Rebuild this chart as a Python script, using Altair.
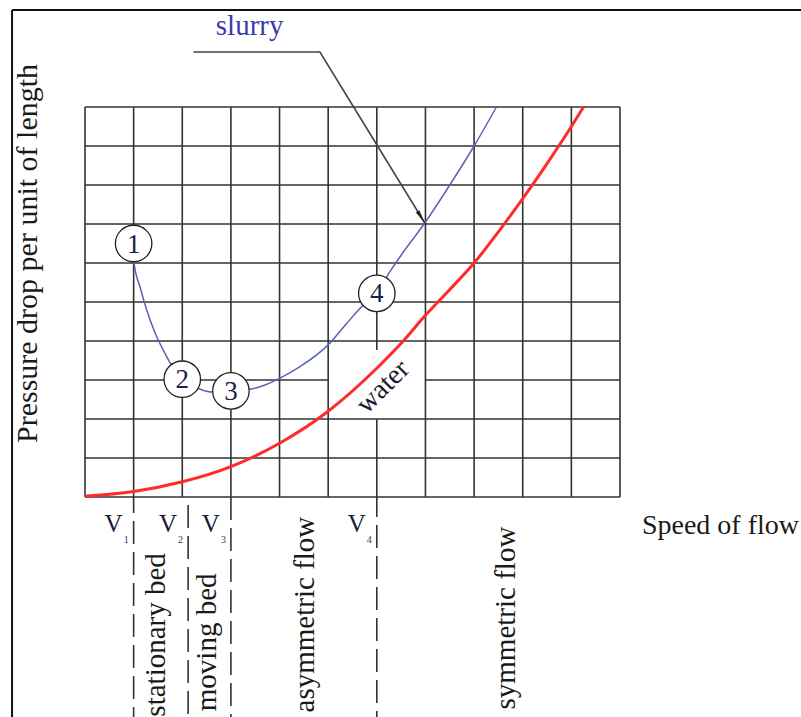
import altair as alt
import pandas as pd

# ---- curves (speed of flow in grid units, pressure drop in grid units) ----
water_speed = [0, 1, 2, 3, 4, 5, 6, 6.5, 7, 7.5, 8, 8.5, 9.0, 9.5, 10.0, 10.25]
water_dp = [0.02, 0.14, 0.39, 0.78, 1.38, 2.2, 3.3, 3.94, 4.66, 5.32, 6.0, 6.8, 7.65, 8.55, 9.5, 10.0]

slurry_speed = [1.0, 1.01, 1.13, 1.27, 1.44, 1.64, 1.75, 2.0, 2.32, 2.63, 3.0, 3.39, 3.7,
                4.0, 4.42, 5.0, 5.38, 5.76, 6.0, 6.27, 6.5, 7.0, 7.5, 8.0, 8.46]
slurry_dp = [6.5, 5.99, 5.39, 4.79, 4.21, 3.69, 3.44, 3.02, 2.79, 2.69, 2.72, 2.76, 2.87,
             3.04, 3.34, 3.9, 4.45, 4.97, 5.22, 5.78, 6.2, 7.05, 8.0, 9.0, 10.0]

# numbered states on the slurry curve
state_labels = ["1", "2", "3", "4"]
state_speed = [1.0, 2.0, 3.0, 6.0]
state_dp = [6.5, 3.02, 2.72, 5.22]

# critical speeds separating the flow regimes
crit_names = ["V", "V", "V", "V"]
crit_subs = ["1", "2", "3", "4"]
crit_speed = [1.0, 2.12, 3.0, 6.0]
crit_dash_offset = [7, 23, 0, 3]

# flow regimes written under the chart
regime_names = ["stationary bed", "moving bed", "asymmetric flow", "symmetric flow"]
regime_x = [1.645, 2.693, 4.708, 8.841]
regime_top = [-1.44, -1.96, -0.505, -0.76]

# grid
grid_x = list(range(0, 12))
grid_y = list(range(0, 11))

# ---------------------------------------------------------------------------
xs = alt.Scale(domain=[0, 11], nice=False, zero=False)
ys = alt.Scale(domain=[0, 10], nice=False, zero=False)


def X(f="x"):
    return alt.X(f"{f}:Q", scale=xs, axis=None)


def Y(f="y"):
    return alt.Y(f"{f}:Q", scale=ys, axis=None)


FONT = "Liberation Serif"
INK = "#1a1a1a"

# grid segments (two lines are interrupted around the "water" label)
segs = []
for gx in grid_x:
    if gx == 6:
        segs += [dict(x=gx, x2=gx, y=0, y2=2), dict(x=gx, x2=gx, y=3.77, y2=10)]
    else:
        segs.append(dict(x=gx, x2=gx, y=0, y2=10))
for gy in grid_y:
    if gy == 3:
        segs += [dict(x=0, x2=5, y=gy, y2=gy), dict(x=7, x2=11, y=gy, y2=gy)]
    else:
        segs.append(dict(x=0, x2=11, y=gy, y2=gy))
grid = alt.Chart(pd.DataFrame(segs)).mark_rule(color="#333333", strokeWidth=1.6).encode(
    x=X(), x2="x2", y=Y(), y2="y2")

# outer frame (left and top edges)
frame_df = pd.DataFrame([dict(x=-1.5, x2=-1.5, y=-6, y2=12.49),
                         dict(x=-1.5, x2=15, y=12.49, y2=12.49)])
frame = alt.Chart(frame_df).mark_rule(color="#111111", strokeWidth=2).encode(
    x=X(), x2="x2", y=Y(), y2="y2")

# dashed regime boundaries below the grid
dashes = []
for s, off in zip(crit_speed, crit_dash_offset):
    dashes.append(
        alt.Chart(pd.DataFrame([dict(x=s, y=0, y2=-6)]))
        .mark_rule(color="#333333", strokeWidth=1.6, strokeDash=[23, 8], strokeDashOffset=off)
        .encode(x=X(), y=Y(), y2="y2"))

water = alt.Chart(pd.DataFrame(dict(x=water_speed, y=water_dp))).mark_line(
    color="#ff2a2a", strokeWidth=3, interpolate="monotone").encode(x=X(), y=Y())

slurry = alt.Chart(pd.DataFrame(dict(x=slurry_speed, y=slurry_dp))).mark_line(
    color="#5b63b5", strokeWidth=1.5, interpolate="monotone").encode(x=X(), y=Y())

states_df = pd.DataFrame(dict(x=state_speed, y=state_dp, t=state_labels))
circles = alt.Chart(states_df).mark_point(
    shape="circle", filled=True, fill="white", stroke="#222222", strokeWidth=1.3,
    size=1330, opacity=1, fillOpacity=1).encode(x=X(), y=Y())
numbers = alt.Chart(states_df).mark_text(
    font=FONT, fontSize=27, color="#1c2050", baseline="middle", align="center", dy=1).encode(
    x=X(), y=Y(), text="t:N")

crit_df = pd.DataFrame(dict(x=crit_speed, t=crit_names, s=crit_subs, y=[-0.9] * 4, ys=[-1.18] * 4))
v_text = alt.Chart(crit_df).mark_text(
    font=FONT, fontSize=25, color="#1a1a3a", align="right", baseline="alphabetic", dx=-11).encode(
    x=X(), y=Y(), text="t:N")
v_sub = alt.Chart(crit_df).mark_text(
    font=FONT, fontSize=10, color="#5a2470", align="left", baseline="alphabetic", dx=-10).encode(
    x=X(), y=Y("ys"), text="s:N")

regimes = alt.Chart(pd.DataFrame(dict(x=regime_x, y=regime_top, t=regime_names))).mark_text(
    font=FONT, fontSize=29, color=INK, angle=270, align="right", baseline="alphabetic").encode(
    x=X(), y=Y(), text="t:N")

y_title = alt.Chart(pd.DataFrame(dict(x=[-0.987], y=[6.244], t=["Pressure drop per unit of length"]))).mark_text(
    font=FONT, fontSize=30, color=INK, angle=270, align="center", baseline="alphabetic").encode(
    x=X(), y=Y(), text="t:N")

x_title = alt.Chart(pd.DataFrame(dict(x=[11.45], y=[-0.94], t=["Speed of flow"]))).mark_text(
    font=FONT, fontSize=28, color=INK, align="left", baseline="alphabetic").encode(
    x=X(), y=Y(), text="t:N")

slurry_label = alt.Chart(pd.DataFrame(dict(x=[3.385], y=[11.85], t=["slurry"]))).mark_text(
    font=FONT, fontSize=29, color="#3b3bb0", align="center", baseline="alphabetic").encode(
    x=X(), y=Y(), text="t:N")

leader_df = pd.DataFrame(dict(x=[2.23, 4.83, 6.99], y=[11.41, 11.41, 7.02], o=[0, 1, 2]))
leader = alt.Chart(leader_df).mark_line(color="#444444", strokeWidth=1.6).encode(
    x=X(), y=Y(), order="o:Q")
arrow_head = alt.Chart(pd.DataFrame(dict(x=[6.99], y=[7.02]))).mark_point(
    shape="M0,0L0.3,2L-0.3,2Z", filled=True, color="#222222", size=196, angle=148.3,
    opacity=1).encode(x=X(), y=Y())

water_label = alt.Chart(pd.DataFrame(dict(x=[6.13], y=[2.82], t=["water"]))).mark_text(
    font=FONT, fontSize=28, color="#1a1a2a", angle=315, align="center", baseline="middle").encode(
    x=X(), y=Y(), text="t:N")

chart = alt.layer(
    frame, grid, *dashes, water, slurry, circles, numbers, v_text, v_sub, regimes,
    y_title, x_title, leader, arrow_head, slurry_label, water_label
).properties(
    width=535, height=390,
    padding={"left": 85, "top": 107, "right": 181, "bottom": 220},
    autosize=alt.AutoSizeParams(type="none"),
    background="white",
).configure_view(stroke=None)

chart.save("out.html", embed_options={"renderer": "svg", "actions": False})
